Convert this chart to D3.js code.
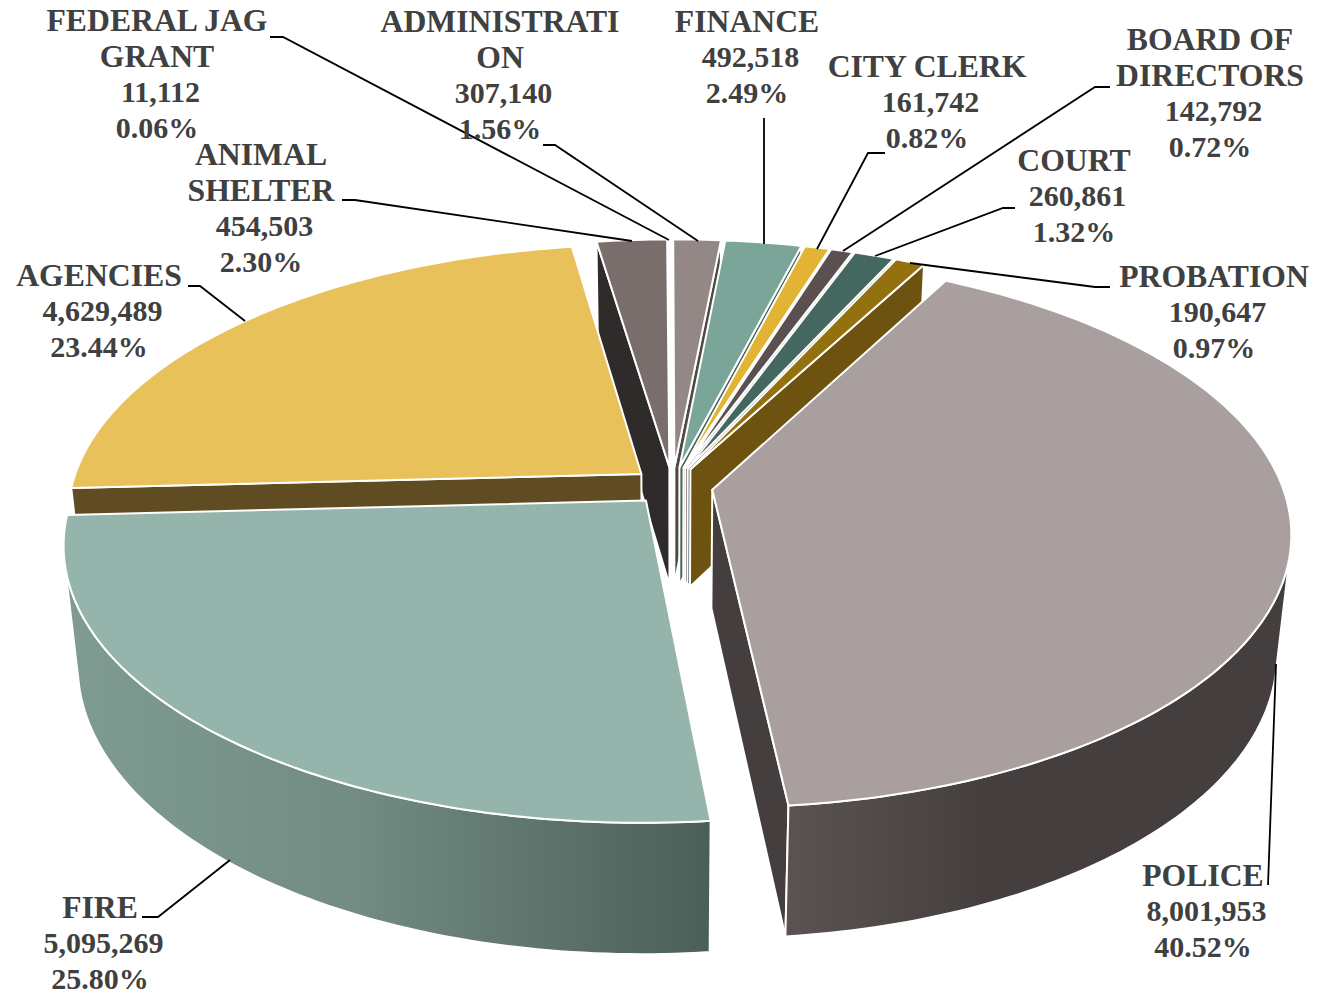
<!DOCTYPE html>
<html>
<head>
<meta charset="utf-8">
<script src="https://d3js.org/d3.v7.min.js"></script>
<style>
html,body{margin:0;padding:0;background:#fff;}
svg{display:block;}
text{font-family:"Liberation Serif",serif;font-weight:700;fill:#404040;text-anchor:middle;}
</style>
</head>
<body>
<svg id="chart" width="1318" height="995"></svg>
<script>
const categories = ["POLICE","FIRE","AGENCIES","ANIMAL SHELTER","FEDERAL JAG GRANT","ADMINISTRATION","FINANCE","CITY CLERK","BOARD OF DIRECTORS","COURT","PROBATION"];
const amounts = [8001953,5095269,4629489,454503,11112,307140,492518,161742,142792,260861,190647];
const nameLines = [["POLICE"],["FIRE"],["AGENCIES"],["ANIMAL","SHELTER"],["FEDERAL JAG","GRANT"],["ADMINISTRATI","ON"],["FINANCE"],["CITY CLERK"],["BOARD OF","DIRECTORS"],["COURT"],["PROBATION"]];
const topColors = ["#a99f9f","#95b5ac","#e8c15a","#7a6e6c","#a0a0a0","#938885","#7aa598","#e3b334","#5b5050","#44675f","#94710f"];
const wallColors = ["#443f3e","#5f6f69","#5f4c22","#2f2b2a","#555555","#4f4845","#456359","#8a6c1f","#352e2e","#28403a","#6e5210"];
const rimLight = ["#5a5352","#7f9b92"];
const rimDark = ["#443f3e","#4c5e58"];

// label layout: centre x, first baseline y
const labelPos = [[1203,886],[100,918],[99,286],[261,165],[157,31],[500,32],[747,32],[927,77],[1210,50],[1074,171],[1214,287]];
// leader polylines
const leaders = [
 [[1268,885],[1276,664]],
 [[142,917],[158,917],[230,860]],
 [[188,286],[200,286],[245,321]],
 [[342,200],[355,200],[632,241]],
 [[270,37],[283,37],[669,240]],
 [[543,145],[555,145],[698,241]],
 [[764,118],[764,244]],
 [[885,153],[868,153],[817,249]],
 [[1110,87],[1095,87],[843,251]],
 [[1015,208],[1003,208],[875,256]],
 [[1110,287],[1095,287],[910,263]]
];
// paint order, back to front
const paintOrder = [5,6,7,8,9,10,4,3,2,1,0];

const cx = 672.5, cy = 486, A = 570, B = 268, H = 121, p = 0.153, q = 0.023, explode = 0.071;
const sx = d3.scaleLinear().domain([-1,1]).range([cx-A,cx+A]);
const sy = d3.scaleLinear().domain([-1,1]).range([cy-B,cy+B]);
const sh = d3.scaleLinear().domain([0,1]).range([0,H]);

const rad = d => d*Math.PI/180;
const pie = d3.pie().sort(null).startAngle(rad(28.25)).endAngle(rad(388.25));
const arcs = pie(amounts);
const total = d3.sum(amounts);
const fmtN = d3.format(","), fmtP = d3.format(".2%");

function proj(X,Z,h){
  const w = 1 - p*Z + q*h;
  return [sx(X/w), sy(Z/w) + sh(h)/w];
}
const svg = d3.select("#chart");
const defs = svg.append("defs");
[0,1].forEach(i=>{
  const g = defs.append("linearGradient").attr("id","rim"+i).attr("x1",0).attr("x2",1).attr("y1",0).attr("y2",0);
  if(i===0){
    g.append("stop").attr("offset",0).attr("stop-color",rimLight[0]);
    g.append("stop").attr("offset",0.4).attr("stop-color",rimDark[0]);
    g.append("stop").attr("offset",1).attr("stop-color",rimDark[0]);
  } else {
    g.append("stop").attr("offset",0).attr("stop-color",rimLight[1]);
    g.append("stop").attr("offset",0.45).attr("stop-color","#728c83");
    g.append("stop").attr("offset",1).attr("stop-color",rimDark[1]);
  }
});
const line = d3.line().curve(d3.curveLinear);
const gPie = svg.append("g");
const STROKE = 2;

function drawSlice(i){
  const a = arcs[i];
  const mid = (a.startAngle+a.endAngle)/2;
  const ox = Math.sin(mid)*explode, oz = -Math.cos(mid)*explode;
  const pt = (t,r,h)=>proj(ox+r*Math.sin(t), oz-r*Math.cos(t), h);
  const n = Math.max(4,Math.ceil((a.endAngle-a.startAngle)/rad(1)));
  const ts = d3.range(n+1).map(k=>a.startAngle+(a.endAngle-a.startAngle)*k/n);
  const apex = pt(0,0,0);
  const apexB = pt(0,0,1);
  const midP = pt(mid,1,0);
  const cross=(u,v)=>u[0]*v[1]-u[1]*v[0];
  const g = gPie.append("g").attr("data-cat",categories[i]);
  [a.startAngle,a.endAngle].forEach(t=>{
    const r0 = pt(t,1,0), r1 = pt(t,1,1);
    const e = [r0[0]-apex[0], r0[1]-apex[1]];
    const m = [midP[0]-apex[0], midP[1]-apex[1]];
    if(Math.sign(cross(e,[0,1])) !== Math.sign(cross(e,m))){
      g.append("path").attr("d",line([apex,r0,r1,apexB])+"Z")
        .attr("fill",wallColors[i]).attr("stroke","#fff").attr("stroke-width",STROKE).attr("stroke-linejoin","round");
    }
  });
  const vis = [];
  for(let k=0;k<n;k++){
    const t0=pt(ts[k],1,0), t1=pt(ts[k+1],1,0), b0=pt(ts[k],1,1);
    if(cross([t1[0]-t0[0],t1[1]-t0[1]],[b0[0]-t0[0],b0[1]-t0[1]])<0) vis.push(k);
  }
  if(vis.length){
    const idx = d3.range(vis[0],vis[vis.length-1]+2);
    const poly = idx.map(k=>pt(ts[k],1,0)).concat(idx.slice().reverse().map(k=>pt(ts[k],1,1)));
    g.append("path").attr("d",line(poly)+"Z")
      .attr("fill", i<2 ? `url(#rim${i})` : wallColors[i])
      .attr("stroke","#fff").attr("stroke-width",STROKE).attr("stroke-linejoin","round");
  }
  const topPts = [apex].concat(ts.map(t=>pt(t,1,0)));
  g.append("path").attr("d",line(topPts)+"Z")
    .attr("fill",topColors[i]).attr("stroke","#fff").attr("stroke-width",STROKE).attr("stroke-linejoin","round");
}
paintOrder.forEach(drawSlice);

svg.append("g").selectAll("path").data(leaders).join("path")
  .attr("d",d=>line(d)).attr("fill","none").attr("stroke","#000").attr("stroke-width",1.8);

const gLab = svg.append("g");
categories.forEach((c,i)=>{
  const names = nameLines[i];
  const t = gLab.append("text").attr("data-cat",c);
  const [x,y] = labelPos[i];
  names.forEach((s,k)=>{
    t.append("tspan").attr("x",x).attr("y",y+k*35.9).attr("font-size",31.7).text(s);
  });
  t.append("tspan").attr("x",x+3.5).attr("y",y+names.length*35.9-0.7).attr("font-size",30).text(fmtN(amounts[i]));
  t.append("tspan").attr("x",x).attr("y",y+(names.length+1)*35.9-0.7).attr("font-size",30).text(fmtP(amounts[i]/total));
});
</script>
</body>
</html>
